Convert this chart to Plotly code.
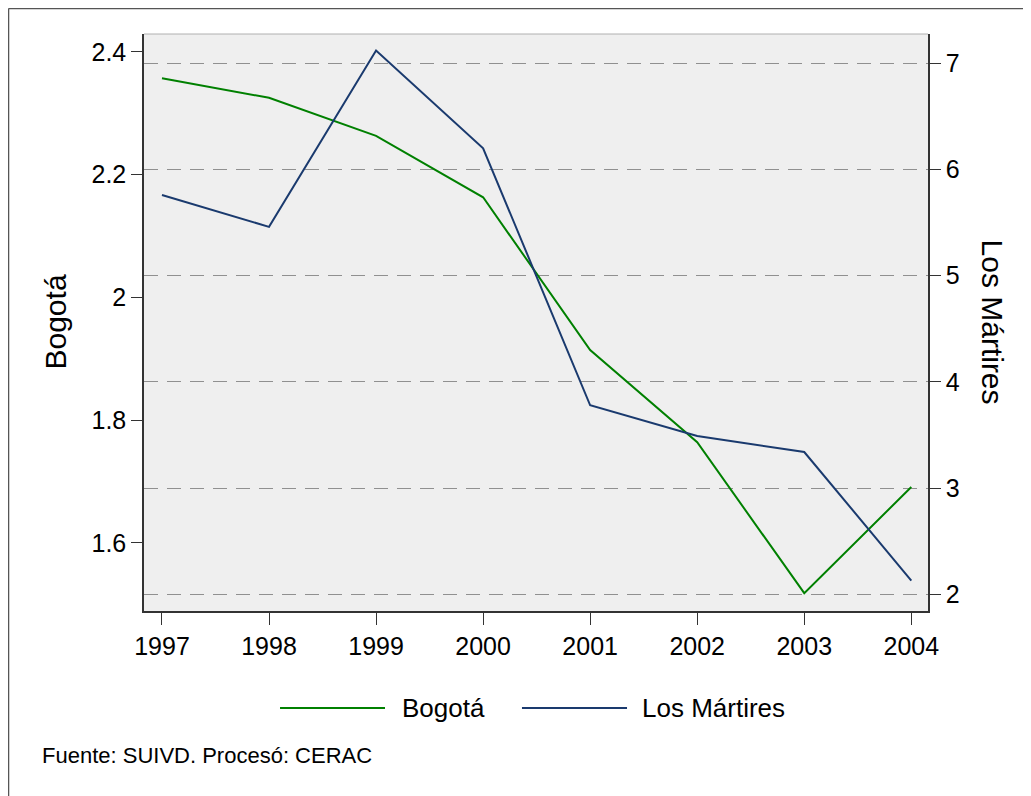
import plotly.graph_objects as go

years = [1997, 1998, 1999, 2000, 2001, 2002, 2003, 2004]
bogota = [2.357, 2.325, 2.263, 2.163, 1.914, 1.764, 1.518, 1.691]
martires = [5.76, 5.46, 7.12, 6.20, 3.78, 3.49, 3.34, 2.13]
left_ticks = [1.6, 1.8, 2.0, 2.2, 2.4]
left_labels = ["1.6", "1.8", "2", "2.2", "2.4"]
right_ticks = [2, 3, 4, 5, 6, 7]

GREEN = "#008000"
NAVY = "#1a3a6e"
FONT = "Liberation Sans, Arial, sans-serif"

fig = go.Figure()
fig.add_trace(go.Scatter(x=years, y=bogota, mode="lines", name="Bogotá",
                         line=dict(color=GREEN, width=2), yaxis="y"))
fig.add_trace(go.Scatter(x=years, y=martires, mode="lines", name="Los Mártires",
                         line=dict(color=NAVY, width=2), yaxis="y2"))

fig.update_layout(
    width=1031, height=796,
    margin=dict(l=136, r=111, t=26, b=193),
    paper_bgcolor="white", plot_bgcolor="#efefef",
    showlegend=False,
    font=dict(family=FONT, color="black", size=25),
    xaxis=dict(range=[1996.832, 2004.156], tickvals=years, ticks="outside",
               ticklen=12, tickcolor="#333", showgrid=False, zeroline=False,
               showline=True, linecolor="#333", linewidth=1.5,
               tickfont=dict(size=25)),
    yaxis=dict(range=[1.489, 2.429], tickvals=left_ticks, ticktext=left_labels,
               ticks="outside", ticklen=11, tickcolor="#333", showgrid=False,
               zeroline=False, showline=True, linecolor="#333", linewidth=1.5,
               tickfont=dict(size=25)),
    yaxis2=dict(range=[1.843, 7.276], tickvals=right_ticks, overlaying="y",
                side="right", ticks="outside", ticklen=11, tickcolor="#333",
                showgrid=True, gridcolor="#909090", griddash="14px,9px", gridwidth=1,
                zeroline=False, showline=True, linecolor="#333", linewidth=1.5,
                tickfont=dict(size=25)),
)

shapes = [
    dict(type="line", xref="paper", yref="paper", x0=0, x1=1, y0=1, y1=1,
         line=dict(color="#b0b0b0", width=1)),
    dict(type="line", xref="paper", yref="paper", x0=-0.1728, x1=1.2, y0=1.0442, y1=1.0442,
         line=dict(color="#555", width=1.5)),
    dict(type="line", xref="paper", yref="paper", x0=-0.1728, x1=-0.1728, y0=1.0442, y1=-0.5,
         line=dict(color="#555", width=1.5)),
    dict(type="line", xref="paper", yref="paper", x0=0.1735, x1=0.3074, y0=-0.1681, y1=-0.1681,
         line=dict(color=GREEN, width=2)),
    dict(type="line", xref="paper", yref="paper", x0=0.4821, x1=0.6161, y0=-0.1681, y1=-0.1681,
         line=dict(color=NAVY, width=2)),
]
fig.update_layout(shapes=shapes)

annotations = [
    dict(text="Bogotá", xref="paper", yref="paper", x=-0.1135, y=0.5,
         xanchor="center", yanchor="middle",
         textangle=-90, showarrow=False, font=dict(size=30)),
    dict(text="Los Mártires", xref="paper", yref="paper", x=1.0829, y=0.5,
         xanchor="center", yanchor="middle",
         textangle=90, showarrow=False, font=dict(size=30)),
    dict(text="Bogotá", xref="paper", yref="paper", x=0.3265, y=-0.1681,
         xanchor="left", yanchor="middle", showarrow=False, font=dict(size=26)),
    dict(text="Los Mártires", xref="paper", yref="paper", x=0.6327, y=-0.1681,
         xanchor="left", yanchor="middle", showarrow=False, font=dict(size=26)),
    dict(text="Fuente: SUIVD. Procesó: CERAC", xref="paper", yref="paper",
         x=-0.1327, y=-0.2496, xanchor="left", yanchor="middle",
         showarrow=False, font=dict(size=22)),
]
fig.update_layout(annotations=annotations)

fig.write_html("out.html")
